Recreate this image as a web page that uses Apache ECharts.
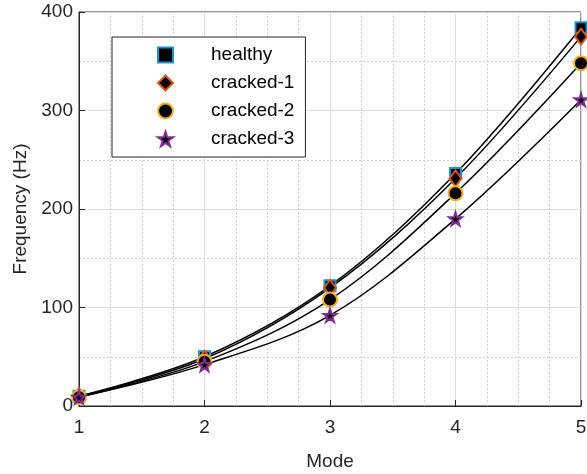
<!DOCTYPE html>
<html>
<head>
<meta charset="utf-8">
<script src="https://cdn.jsdelivr.net/npm/echarts@6/dist/echarts.min.js"></script>
<style>
  html, body { margin: 0; padding: 0; background: #fff; }
  #chart { width: 587px; height: 474px; }
</style>
</head>
<body>
<div id="chart"></div>
<script>
// data
const modes = [1, 2, 3, 4, 5];
const healthy = [10, 50, 122, 236, 384];
const cracked1 = [10, 48, 120, 231, 375];
const cracked2 = [9, 45, 108, 216, 348];
const cracked3 = [9, 42, 92, 190, 311];

const starPath = 'path://M50,0 L61,35 L98,35 L68,57 L79,91 L50,70 L21,91 L32,57 L2,35 L39,35 Z';
const font = 'Arial, "Liberation Sans", Helvetica, sans-serif';
const txt = '#262626';

const pairs = (ys) => modes.map((m, i) => [m, ys[i]]);

// black fitted curve under each marker set
const curve = (ys) => ({
  type: 'line',
  data: pairs(ys),
  smooth: 0.35,
  showSymbol: false,
  lineStyle: { color: '#000', width: 1.5 },
  z: 2,
  silent: true
});

const marks = (name, ys, symbol, size, edge) => ({
  name: name,
  type: 'scatter',
  data: pairs(ys),
  symbol: symbol,
  symbolSize: size,
  itemStyle: { color: '#000', borderColor: edge, borderWidth: 2, opacity: 1 },
  z: 5
});

const chart = echarts.init(document.getElementById('chart'));
chart.setOption({
  animation: false,
  textStyle: { fontFamily: font },
  grid: {
    left: 79, right: 6, top: 12, bottom: 68,
    outerBoundsMode: 'none',
    show: true, borderColor: txt, borderWidth: 1
  },
  legend: {
    orient: 'vertical',
    left: 112,
    top: 37,
    padding: [8, 11, 8, 45],
    itemGap: 8,
    itemWidth: 15,
    itemHeight: 15,
    borderColor: txt,
    borderWidth: 1,
    backgroundColor: '#fff',
    data: ['healthy', 'cracked-1', 'cracked-2', 'cracked-3'],
    textStyle: { fontSize: 19, color: '#000', lineHeight: 20, padding: [0, 0, 0, 33] }
  },
  xAxis: {
    type: 'value',
    min: 1, max: 5, interval: 1,
    name: 'Mode',
    nameLocation: 'middle',
    nameGap: 46,
    nameTextStyle: { fontSize: 19, color: txt },
    axisLine: { lineStyle: { color: txt } },
    axisTick: { inside: true, length: 6, lineStyle: { color: txt } },
    axisLabel: { fontSize: 19, color: txt, margin: 12 },
    splitLine: { lineStyle: { color: '#dcdcdc', width: 1 } },
    minorTick: { show: false, splitNumber: 4 },
    minorSplitLine: { show: true, lineStyle: { color: '#cfcfcf', type: [2, 2] } }
  },
  yAxis: {
    type: 'value',
    min: 0, max: 400, interval: 100,
    name: 'Frequency (Hz)',
    nameLocation: 'middle',
    nameGap: 49,
    nameTextStyle: { fontSize: 19, color: txt },
    axisLine: { show: true, lineStyle: { color: txt } },
    axisTick: { show: true, inside: true, length: 6, lineStyle: { color: txt } },
    axisLabel: { fontSize: 19, color: txt, margin: 6 },
    splitLine: { lineStyle: { color: '#dcdcdc', width: 1 } },
    minorTick: { show: false, splitNumber: 2 },
    minorSplitLine: { show: true, lineStyle: { color: '#cfcfcf', type: [2, 2] } }
  },
  series: [
    curve(healthy), curve(cracked1), curve(cracked2), curve(cracked3),
    marks('healthy', healthy, 'rect', 11, '#1f8fd8'),
    marks('cracked-1', cracked1, 'diamond', [12, 16], '#e0541a'),
    marks('cracked-2', cracked2, 'circle', 14, '#f0b020'),
    marks('cracked-3', cracked3, starPath, 13, '#7e2f8e')
  ]
});
</script>
</body>
</html>
